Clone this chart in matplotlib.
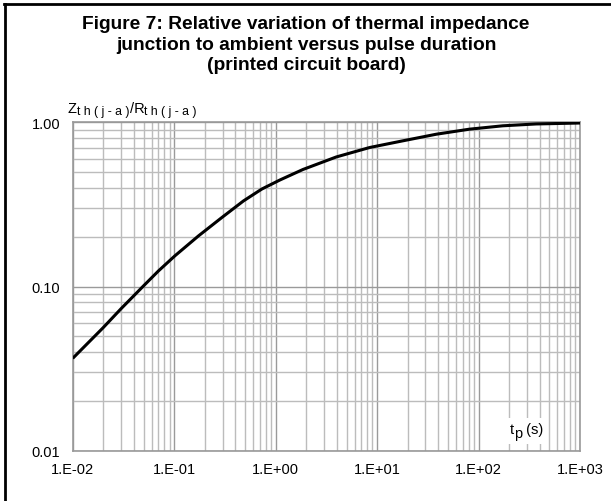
import matplotlib
matplotlib.use("Agg")
import matplotlib.pyplot as plt
from matplotlib.lines import Line2D
from matplotlib.patches import Rectangle
import numpy as np

# data
tp = [0.01, 0.02, 0.03, 0.05, 0.0702, 0.102, 0.174, 0.295, 0.482, 0.73, 1.10,
      1.86, 3.96, 8.43, 17.9, 38.3, 81.3, 173, 369, 1000]
zth = [0.0365, 0.0562, 0.0733, 0.101, 0.1246, 0.154, 0.2035, 0.263, 0.332, 0.392, 0.445,
       0.516, 0.615, 0.702, 0.771, 0.846, 0.908, 0.952, 0.977, 0.99]
xticks = [1e-2, 1e-1, 1e0, 1e1, 1e2, 1e3]
xticklabels = ["1.E-02", "1.E-01", "1.E+00", "1.E+01", "1.E+02", "1.E+03"]
yticks = [0.01, 0.1, 1.0]
yticklabels = ["0.01", "0.10", "1.00"]

plt.rcParams['font.family'] = ['Liberation Sans', 'DejaVu Sans']

W, H = 611, 502
fig = plt.figure(figsize=(W / 100, H / 100), dpi=100)
ax = fig.add_axes([72.7 / W, 1 - 451.7 / H, (580 - 72.7) / W, (451.7 - 123.3) / H])

ax.set_xscale('log')
ax.set_yscale('log')
ax.set_xlim(1e-2, 1e3)
ax.set_ylim(0.01, 1.0)

ax.grid(True, which='minor', color='#bcbcbc', lw=1.0)
ax.grid(True, which='major', color='#9a9a9a', lw=1.0)
ax.set_axisbelow(True)
for s in ax.spines.values():
    s.set_color('#999999')
    s.set_linewidth(1.2)

ax.plot(tp, zth, color='black', lw=2.2, solid_capstyle='butt', zorder=5)

ax.set_xticks(xticks)
ax.set_xticklabels(xticklabels)
ax.set_yticks(yticks)
ax.set_yticklabels(yticklabels)
ax.tick_params(which='both', length=0, labelsize=10.5, colors='black')
ax.tick_params(axis='x', pad=8)
ax.tick_params(axis='y', pad=9)

renderer = fig.canvas.get_renderer()


def pieces(x0, y0, parts):
    """Place text parts sequentially, starting at pixel (x0, y0 from top)."""
    x = x0
    for txt, size, dy in parts:
        t = fig.text(x / W, 1 - (y0 + dy) / H, txt, fontsize=size,
                     ha='left', va='baseline', zorder=7)
        bb = t.get_window_extent(renderer)
        x += bb.width
    return x


# y axis label
pieces(68, 113, [("Z", 10.5, 0), ("t h ( j - a )", 8.8, 2),
                 ("/R", 10.5, 0), ("t h ( j - a )", 8.8, 2)])

# tp (s) label with white background
x_end = pieces(510, 434, [("t", 10.5, 0), ("p", 10.5, 4), (" (s)", 10.5, 0)])
fig.add_artist(Rectangle((507 / W, 1 - 445 / H), (x_end - 507 + 3) / W, 26 / H,
                         transform=fig.transFigure, facecolor='white',
                         edgecolor='none', zorder=6))

# title
title = ("Figure 7: Relative variation of thermal impedance\n"
         "junction to ambient versus pulse duration\n"
         "(printed circuit board)")
fig.text(306 / W, 1 - 45 / H, title, fontsize=13.8, fontweight='bold',
         ha='center', va='center', linespacing=1.3)

# partial frame (left and top)
fig.add_artist(Line2D([4.5 / W, 4.5 / W], [0, 1 - 4.5 / H], color='black', lw=2,
                      transform=fig.transFigure))
fig.add_artist(Line2D([3.5 / W, 1], [1 - 4.5 / H, 1 - 4.5 / H], color='black', lw=2,
                      transform=fig.transFigure))

fig.savefig('out.png', dpi=100)
